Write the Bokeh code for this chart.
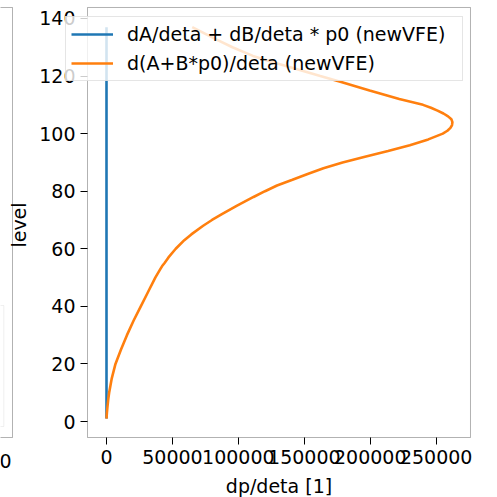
import math
from bokeh.plotting import figure
from bokeh.models import (FixedTicker, Legend, LegendItem, BoxAnnotation, Label,
                          LinearAxis, NumeralTickFormatter, Range1d)
from bokeh.embed import file_html
from bokeh.resources import INLINE

# ---- data ----
levels_orange = [1, 3, 5, 8, 10, 12, 15, 20, 25, 30, 35, 40, 45, 50, 53, 54, 55,
                 57, 60, 63, 65, 68, 70, 72, 75, 78, 80, 82, 84, 86, 88, 90, 92,
                 94, 96, 98, 100, 101, 102, 103, 104, 105, 106, 107, 108, 109,
                 110, 112, 115, 118, 120, 123, 125, 127, 130, 133, 135, 137]
dpdeta_orange = [0, 300, 700, 1400, 2000, 2800, 4000, 6800, 11000, 15500, 20500,
                 26000, 31500, 37000, 40900, 42200, 43900, 47000, 52500, 59000,
                 64300, 73300, 80000, 87500, 99000, 111500, 120200, 129300,
                 141000, 152500, 164500, 179000, 196000, 213500, 230000, 244000,
                 255000, 258500, 260800, 262000, 262300, 261500, 259000, 255500,
                 251000, 246000, 240000, 222000, 199500, 177300, 162100, 140000,
                 125000, 111000, 95500, 82000, 73500, 65000]
levels_blue = [1, 20, 40, 60, 80, 100, 120, 137]
dpdeta_blue = [0, 0, 0, 0, 0, 0, 0, 0]

x_ticks = [0, 50000, 100000, 150000, 200000, 250000]
y_ticks = [0, 20, 40, 60, 80, 100, 120, 140]
x_limits = (-14400, 276000)      # axes limits of the main panel
y_limits = (-5.56, 143.82)
canvas_x = (-80376, 296482)      # data extent of the whole picture
canvas_y = (-26.40, 146.25)
series_labels = ["dA/deta + dB/deta * p0 (newVFE)", "d(A+B*p0)/deta (newVFE)"]
series_colors = ["#1f77b4", "#ff7f0e"]
x_label = "dp/deta [1]"
y_label = "level"
left_panel_tick = "0"

FONT = "DejaVu Sans"
FS = "19px"
W = H = 497

p = figure(width=W, height=H, x_range=Range1d(*canvas_x), y_range=Range1d(*canvas_y),
           output_backend="svg", toolbar_location=None,
           x_axis_location=None, y_axis_location=None,
           min_border=0, min_border_left=0, min_border_right=0,
           min_border_top=0, min_border_bottom=0)
p.grid.visible = False
p.outline_line_color = None
p.background_fill_color = "white"
p.border_fill_color = "white"

r1 = p.line(dpdeta_blue, levels_blue, line_color=series_colors[0], line_width=2.6)
r2 = p.line(dpdeta_orange, levels_orange, line_color=series_colors[1], line_width=2.6)

xaxis = LinearAxis(fixed_location=y_limits[0], ticker=FixedTicker(ticks=x_ticks),
                   formatter=NumeralTickFormatter(format="0"))
yaxis = LinearAxis(fixed_location=x_limits[0], ticker=FixedTicker(ticks=y_ticks),
                   formatter=NumeralTickFormatter(format="0"))
for ax in (xaxis, yaxis):
    ax.axis_line_color = None
    ax.major_tick_out = 7
    ax.major_tick_in = 0
    ax.minor_tick_out = 0
    ax.minor_tick_in = 0
    ax.major_tick_line_color = "black"
    ax.major_tick_line_width = 1
    ax.major_label_text_font = FONT
    ax.major_label_text_font_size = FS
    ax.major_label_text_color = "black"
    ax.major_label_standoff = 5
p.add_layout(xaxis, "below")
p.add_layout(yaxis, "left")

# frame of the main panel
p.add_layout(BoxAnnotation(left=x_limits[0], right=x_limits[1],
                           bottom=y_limits[0], top=y_limits[1],
                           fill_alpha=0, line_color="black", line_width=1))

# fragment of the neighbouring panel on the left
p.add_layout(BoxAnnotation(left=-50, right=12, bottom=60, top=490,
                           left_units="screen", right_units="screen",
                           top_units="screen", bottom_units="screen",
                           fill_alpha=0, line_color="black", line_width=1))
p.add_layout(BoxAnnotation(left=-50, right=3.3, bottom=71, top=192,
                           left_units="screen", right_units="screen",
                           top_units="screen", bottom_units="screen",
                           fill_color="white", fill_alpha=0.8,
                           line_color="#cccccc", line_width=1))
p.add_layout(Label(x=5, y=36.5, x_units="screen", y_units="screen",
                   text=left_panel_tick, text_align="center",
                   text_baseline="alphabetic", text_font=FONT,
                   text_font_size=FS, text_color="black"))

# axis titles
p.add_layout(Label(x=278.5, y=12, x_units="screen", y_units="screen",
                   text=x_label, text_align="center", text_baseline="alphabetic",
                   text_font=FONT, text_font_size=FS, text_color="black"))
p.add_layout(Label(x=18, y=272.5, x_units="screen", y_units="screen",
                   text=y_label, text_align="center", text_baseline="alphabetic",
                   angle=math.pi / 2, text_font=FONT, text_font_size=FS,
                   text_color="black"))

legend = Legend(items=[LegendItem(label=series_labels[0], renderers=[r1]),
                       LegendItem(label=series_labels[1], renderers=[r2])],
                location=(65, 416), margin=0, padding=5, spacing=5,
                glyph_width=42, glyph_height=24, label_height=24, label_width=330,
                label_standoff=14, label_text_font=FONT,
                label_text_font_size=FS, label_text_color="black",
                border_line_color="#cccccc", border_line_width=1,
                background_fill_color="white", background_fill_alpha=0.8)
p.add_layout(legend)

open("out.html", "w").write(file_html(p, INLINE))
